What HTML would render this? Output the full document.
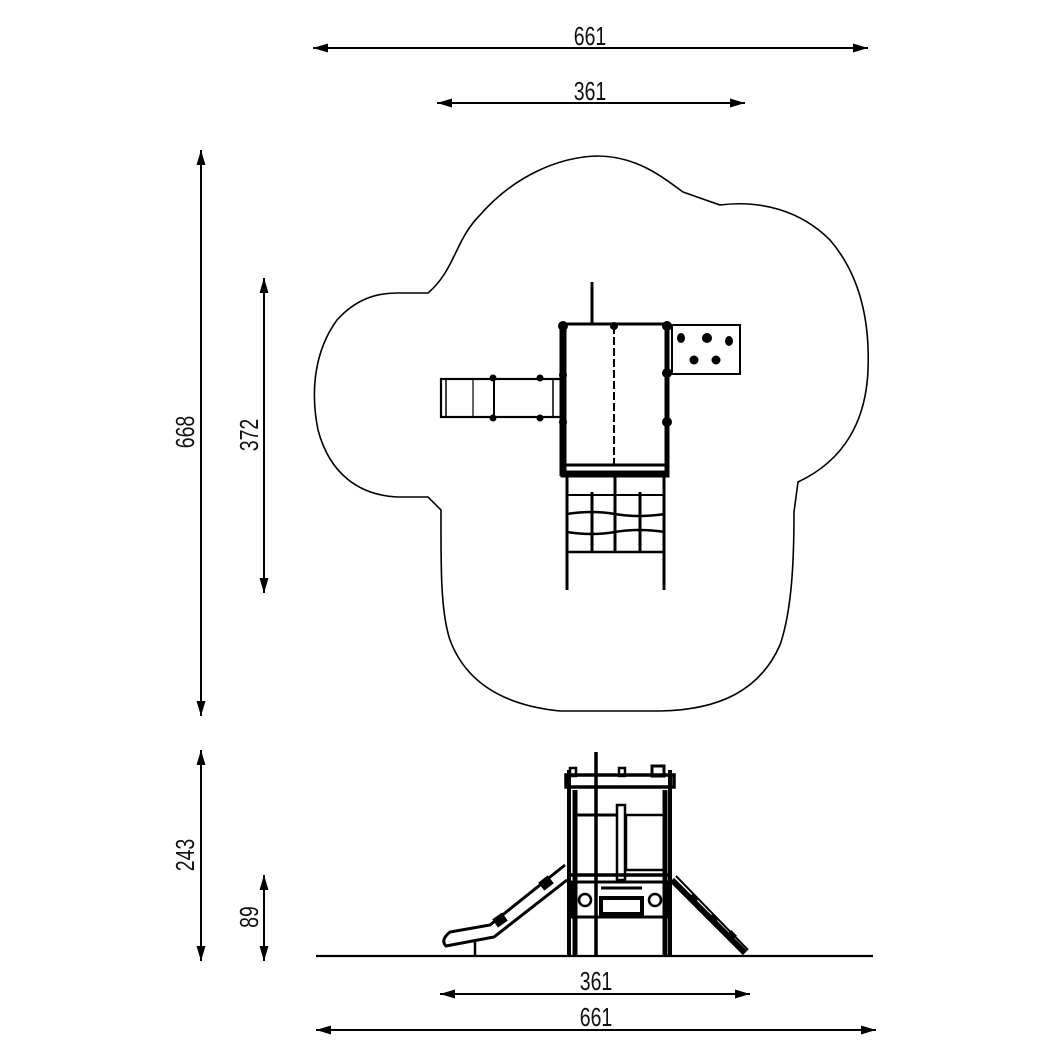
<!DOCTYPE html>
<html><head><meta charset="utf-8"><style>
html,body{margin:0;padding:0;background:#fff}
svg{display:block}
text{font-family:"Liberation Sans",sans-serif;font-size:26px;fill:#111}
</style></head><body>
<svg width="1058" height="1058" viewBox="0 0 1058 1058" xmlns="http://www.w3.org/2000/svg">
<defs>
<marker id="a" viewBox="0 0 10 6" refX="10" refY="3" markerWidth="18" markerHeight="9" orient="auto-start-reverse" markerUnits="userSpaceOnUse"><path d="M0,0 L10,3 L0,6 Z" fill="#000"/></marker>
</defs>
<g stroke="#000" stroke-width="2" fill="none">
<line x1="313" y1="48" x2="868" y2="48" marker-start="url(#a)" marker-end="url(#a)"/>
<line x1="437" y1="103" x2="745" y2="103" marker-start="url(#a)" marker-end="url(#a)"/>
<line x1="201" y1="150" x2="201" y2="716" marker-start="url(#a)" marker-end="url(#a)"/>
<line x1="264" y1="278" x2="264" y2="593" marker-start="url(#a)" marker-end="url(#a)"/>
<line x1="201" y1="750" x2="201" y2="961" marker-start="url(#a)" marker-end="url(#a)"/>
<line x1="264" y1="875" x2="264" y2="961" marker-start="url(#a)" marker-end="url(#a)"/>
<line x1="440" y1="994" x2="750" y2="994" marker-start="url(#a)" marker-end="url(#a)"/>
<line x1="316" y1="1030" x2="876" y2="1030" marker-start="url(#a)" marker-end="url(#a)"/>
<line x1="316" y1="956" x2="873" y2="956" stroke-width="2.2"/>
</g>
<g>
<text transform="translate(590,45) scale(0.75,1)" text-anchor="middle">661</text>
<text transform="translate(590,100) scale(0.75,1)" text-anchor="middle">361</text>
<text transform="translate(596,990) scale(0.75,1)" text-anchor="middle">361</text>
<text transform="translate(596,1026) scale(0.75,1)" text-anchor="middle">661</text>
<text transform="translate(194,432) rotate(-90) scale(0.75,1)" text-anchor="middle">668</text>
<text transform="translate(258,435) rotate(-90) scale(0.75,1)" text-anchor="middle">372</text>
<text transform="translate(194,855) rotate(-90) scale(0.75,1)" text-anchor="middle">243</text>
<text transform="translate(258,917) rotate(-90) scale(0.75,1)" text-anchor="middle">89</text>
</g>
<!-- cloud -->
<path fill="none" stroke="#000" stroke-width="1.6" d="
M428,293 C455,270 455,240 480,215 C515,175 560,157 597,156 C635,156 660,175 683,192
L720,205 C760,200 800,210 830,240 C860,275 870,320 868,370 C866,420 845,460 798,482
L794,512 C794,560 792,610 780,645 C760,690 720,710 660,711 L560,711 C500,705 465,680 450,640 C440,610 441,560 441,510
L428,497 L397,497 C360,495 330,475 318,430 C310,390 315,350 337,320 C355,300 375,293 397,293 Z"/>
<!-- top view structure -->
<g stroke="#000" fill="none">
<line x1="592" y1="282" x2="592" y2="325" stroke-width="3"/>
<rect x="562" y="324" width="106" height="152" stroke-width="3"/>
<line x1="563" y1="324" x2="563" y2="476" stroke-width="7"/>
<line x1="667" y1="324" x2="667" y2="476" stroke-width="5"/>
<line x1="614" y1="326" x2="614" y2="465" stroke-width="2" stroke-dasharray="8,3"/>
<line x1="563" y1="465" x2="668" y2="465" stroke-width="3"/>
<line x1="563" y1="473" x2="668" y2="473" stroke-width="5"/>
<rect x="441" y="379" width="120" height="38" stroke-width="2.2"/>
<line x1="446" y1="379" x2="446" y2="417" stroke-width="1.5"/>
<line x1="473" y1="379" x2="473" y2="417" stroke-width="1.2"/>
<line x1="494" y1="379" x2="494" y2="417" stroke-width="2"/>
<line x1="553" y1="379" x2="553" y2="417" stroke-width="1.5"/>
<rect x="672" y="325" width="68" height="49" stroke-width="2"/>
<line x1="567" y1="477" x2="567" y2="590" stroke-width="3"/>
<line x1="664" y1="477" x2="664" y2="590" stroke-width="3"/>
<line x1="592" y1="492" x2="592" y2="552" stroke-width="3"/>
<line x1="615" y1="477" x2="615" y2="552" stroke-width="3"/>
<line x1="640" y1="492" x2="640" y2="552" stroke-width="3"/>
<line x1="567" y1="495" x2="665" y2="495" stroke-width="2"/>
<path d="M567,514 Q592,510 615,514 T665,514" stroke-width="2.5"/>
<path d="M567,532 Q592,536 615,532 T665,532" stroke-width="2.5"/>
<line x1="567" y1="552" x2="665" y2="552" stroke-width="2.5"/>
</g>
<g fill="#000">
<ellipse cx="681" cy="338" rx="4" ry="5"/><circle cx="707" cy="338" r="5"/><ellipse cx="729" cy="341" rx="4" ry="5"/>
<circle cx="694" cy="360" r="4.5"/><circle cx="716" cy="360" r="4.5"/>
<circle cx="563" cy="326" r="5"/><circle cx="667" cy="326" r="5"/><circle cx="614" cy="326" r="4"/>
<circle cx="563" cy="375" r="4"/><circle cx="667" cy="373" r="5"/><circle cx="667" cy="422" r="5"/><circle cx="563" cy="422" r="4"/>
<circle cx="493" cy="378" r="3.5"/><circle cx="540" cy="378" r="3.5"/><circle cx="493" cy="418" r="3.5"/><circle cx="540" cy="418" r="3.5"/>
</g>
<!-- side view -->
<g stroke="#000" fill="none">
<line x1="596" y1="752" x2="596" y2="956" stroke-width="3.5"/>
<line x1="569" y1="770" x2="569" y2="956" stroke-width="4"/>
<line x1="670" y1="770" x2="670" y2="956" stroke-width="4"/>
<line x1="575" y1="790" x2="575" y2="956" stroke-width="5"/>
<line x1="665" y1="790" x2="665" y2="956" stroke-width="5"/>
<rect x="566" y="775" width="108" height="12" stroke-width="3.5"/>
<rect x="570" y="768" width="6" height="8" stroke-width="2.5"/>
<rect x="619" y="768" width="6" height="8" stroke-width="2.5"/>
<rect x="652" y="766" width="12" height="10" stroke-width="3"/>
<line x1="575" y1="815" x2="618" y2="815" stroke-width="3"/>
<rect x="617" y="805" width="8" height="75" stroke-width="2.5"/>
<rect x="626" y="815" width="38" height="55" stroke-width="2.5"/>
<line x1="569" y1="875" x2="670" y2="875" stroke-width="3.5"/>
<rect x="572" y="882" width="95" height="35" stroke-width="3"/>
<line x1="601" y1="888" x2="642" y2="888" stroke-width="3"/>
<rect x="601" y="898" width="41" height="16" stroke-width="4"/>
<circle cx="585" cy="900" r="6" stroke-width="2.5"/>
<circle cx="655" cy="900" r="6" stroke-width="2.5"/>
<path d="M565,865 L490,925 L450,932 Q440,940 446,946 L494,937 L567,880" stroke-width="3"/>
<line x1="475" y1="940" x2="475" y2="956" stroke-width="2.5"/>
<path d="M672,880 L745,953" stroke-width="6"/>
<path d="M676,876 L748,950" stroke-width="2"/>
</g>
<g fill="#000">
<rect x="540" y="878" width="12" height="10" transform="rotate(-38 546 883)"/>
<rect x="494" y="915" width="12" height="10" transform="rotate(-35 500 920)"/>
<rect x="690" y="895" width="8" height="6" transform="rotate(45 694 898)"/>
<rect x="710" y="915" width="8" height="6" transform="rotate(45 714 918)"/>
<rect x="728" y="932" width="8" height="6" transform="rotate(45 732 935)"/>
</g>
</svg>
</body></html>
